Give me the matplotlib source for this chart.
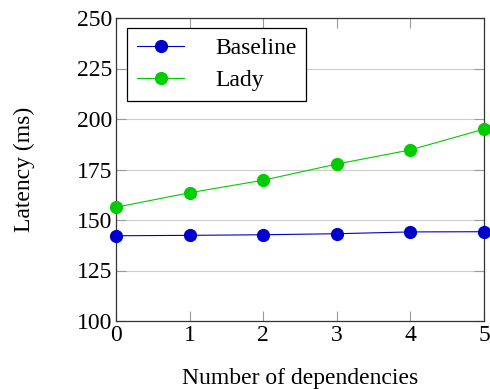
import matplotlib
matplotlib.use("Agg")
import matplotlib.pyplot as plt

plt.rcParams['font.family'] = ['Liberation Serif', 'DejaVu Serif']
plt.rcParams['font.size'] = 17

deps = [0, 1, 2, 3, 4, 5]
baseline = [142.2, 142.4, 142.7, 143.2, 144.1, 144.2]
lady = [156.3, 163.5, 169.7, 177.7, 184.7, 195.0]
yticks = [100, 125, 150, 175, 200, 225, 250]

fig = plt.figure(figsize=(4.9, 3.89), dpi=100)
ax = fig.add_axes([116 / 490, 68 / 389, 368 / 490, 303 / 389])

ax.plot(deps, baseline, color='#0000cc', marker='o', markersize=8.5,
        linewidth=0.8, label='Baseline', clip_on=False, zorder=3)
ax.plot(deps, lady, color='#00cc00', marker='o', markersize=8.5,
        linewidth=0.8, label='Lady', clip_on=False, zorder=3)

ax.set_xlim(0, 5)
ax.set_ylim(100, 250)
ax.set_xticks(deps)
ax.set_yticks(yticks)
ax.grid(True, axis='y', color='#cccccc', linewidth=0.8)
ax.set_axisbelow(True)
ax.tick_params(direction='in', length=7, width=0.8, color='#999999',
               top=True, right=True, pad=3)
for s in ax.spines.values():
    s.set_color('#333333')
    s.set_linewidth(0.9)

ax.set_xlabel('Number of dependencies', labelpad=16)
ax.set_ylabel('Latency (ms)', labelpad=30)

leg = ax.legend(loc='upper left', bbox_to_anchor=(0.03, 0.967), fancybox=False,
                edgecolor='black', framealpha=1, handlelength=2.0,
                handletextpad=1.3, borderpad=0.42, labelspacing=0.42,
                borderaxespad=0)
leg.get_frame().set_linewidth(0.9)

fig.savefig('out.png', dpi=100)
